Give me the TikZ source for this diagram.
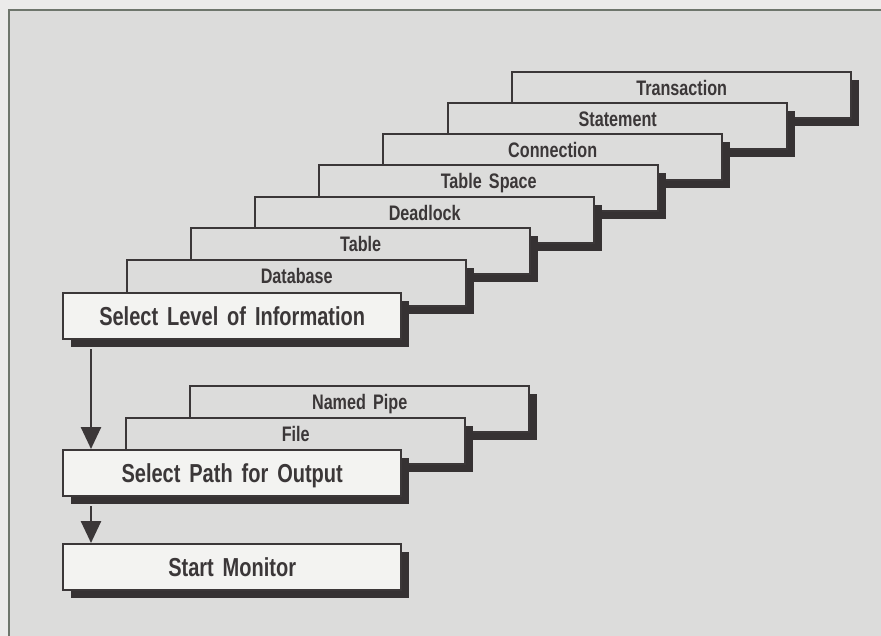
\documentclass[tikz,border=0pt]{standalone}
\usepackage{fontspec}
\newfontfamily\cardfont[FakeStretch=0.77, WordSpace=1.6]{Liberation Sans}
\usetikzlibrary{positioning,shadows,arrows.meta}
\definecolor{pagec}{HTML}{EBEBEA}
\definecolor{panelc}{HTML}{DCDCDB}
\definecolor{linec}{HTML}{3B3738}
\definecolor{shadc}{HTML}{363233}
\definecolor{frontc}{HTML}{F3F3F1}
\definecolor{framec}{HTML}{6E766C}
\tikzset{
  backcard/.style={draw=linec, line width=2.4pt, fill=panelc, anchor=north west,
    minimum width=339pt, inner sep=0pt, text height=23pt, text depth=23pt,
    text=linec, font=\cardfont\bfseries\fontsize{21}{21}\selectfont,
    drop shadow={shadow xshift=8pt, shadow yshift=-8pt, fill=shadc, opacity=1}},
  frontcard/.style={backcard, fill=frontc, minimum width=338pt,
    text height=32pt, text depth=14pt, font=\cardfont\bfseries\fontsize{26}{26}\selectfont},
  flowarrow/.style={draw=linec, line width=2.6pt, -{Triangle[width=20pt,length=22pt]}}
}
\begin{document}
\begin{tikzpicture}[x=1pt,y=-1pt]
\useasboundingbox (0,0) rectangle (881,636);
\fill[pagec] (0,0) rectangle (881,636);
\fill[panelc] (9,10) rectangle (881,636);
\draw[framec, line width=1.5pt] (9,636) -- (9,10) -- (881,10);
% levels of information
\node[backcard] (trans) at (511,71) {Transaction};
\node[backcard] (stmt) at (447,102) {Statement};
\node[backcard] (conn) at (382,133) {Connection};
\node[backcard] (tspace) at (318,164) {Table Space};
\node[backcard] (dlock) at (254,196) {Deadlock};
\node[backcard] (table) at (190,227) {Table};
\node[backcard] (dbase) at (126,259) {Database};
\node[frontcard] (level) at (62,292) {Select Level of Information};
% output paths
\node[backcard] (pipe) at (189,385) {Named Pipe};
\node[backcard] (file) at (125,417) {File};
\node[frontcard] (path) at (62,449) {Select Path for Output};
\node[frontcard] (start) at (62,543) {Start Monitor};
% flow
\draw[flowarrow] ([xshift=29pt,yshift=-9pt]level.south west) -- ([xshift=29pt]path.north west);
\draw[flowarrow] ([xshift=29pt,yshift=-9pt]path.south west) -- ([xshift=29pt]start.north west);
\end{tikzpicture}
\end{document}
